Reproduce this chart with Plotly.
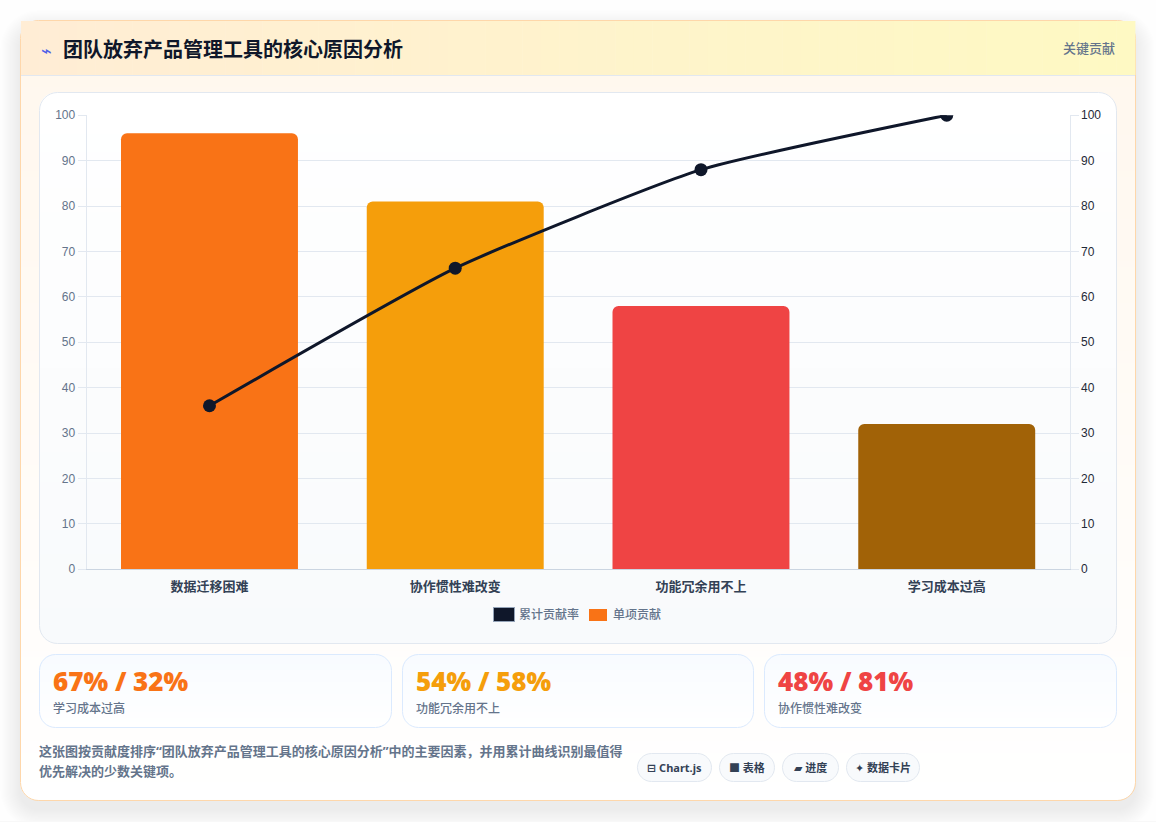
import math
import plotly.graph_objects as go

W, H = 1156, 822

# chart data
categories = ["数据迁移困难", "协作惯性难改变", "功能冗余用不上", "学习成本过高"]
contribution = [96, 81, 58, 32]
cumulative = [36, 66.3, 88, 100]
bar_colors = ["#f97316", "#f59e0b", "#ef4444", "#a16207"]
y_ticks = [0, 10, 20, 30, 40, 50, 60, 70, 80, 90, 100]

# text
title = "团队放弃产品管理工具的核心原因分析"
badge = "关键贡献"
card_values = ["67% / 32%", "54% / 58%", "48% / 81%"]
card_labels = ["学习成本过高", "功能冗余用不上", "协作惯性难改变"]
card_colors = ["#f97316", "#f59e0b", "#ef4444"]
note_lines = ["这张图按贡献度排序“团队放弃产品管理工具的核心原因分析”中的主要因素，并用累计曲线识别最值得",
              "优先解决的少数关键项。"]
pills = ["⊟ Chart.js", "■ 表格", "▰ 进度", "✦ 数据卡片"]

CJK = "Noto Sans CJK SC"


def px(x):
    return x / W


def py(y):
    return 1 - y / H


def mix(c0, c1, t):
    a = [int(c0[i:i + 2], 16) for i in (1, 3, 5)]
    b = [int(c1[i:i + 2], 16) for i in (1, 3, 5)]
    return "rgb(%d,%d,%d)" % tuple(round(p + (q - p) * t) for p, q in zip(a, b))


def round_rect(x0, y0, x1, y1, r, fill="rgba(0,0,0,0)", line=None, width=1):
    # rounded rectangle as an svg path in paper coords
    k = r * 0.45
    pts = [("M", x0 + r, y0), ("L", x1 - r, y0),
           ("C", x1 - k, y0, x1, y0 + k, x1, y0 + r), ("L", x1, y1 - r),
           ("C", x1, y1 - k, x1 - k, y1, x1 - r, y1), ("L", x0 + r, y1),
           ("C", x0 + k, y1, x0, y1 - k, x0, y1 - r), ("L", x0, y0 + r),
           ("C", x0, y0 + k, x0 + k, y0, x0 + r, y0)]
    d = ""
    for p in pts:
        coords = p[1:]
        d += p[0] + " ".join("%.5f,%.5f" % (px(coords[i]), py(coords[i + 1])) for i in range(0, len(coords), 2)) + " "
    return dict(type="path", path=d + "Z", xref="paper", yref="paper", layer="below", fillcolor=fill,
                line=dict(color=line if line else "rgba(0,0,0,0)", width=width if line else 0))


def rect(x0, y0, x1, y1, fill):
    return dict(type="rect", xref="paper", yref="paper", layer="below", x0=px(x0), x1=px(x1), y0=py(y1), y1=py(y0),
                fillcolor=fill, line=dict(width=0))


def v_gradient(x0, y0, x1, y1, r, c0, c1):
    # vertical gradient cut into rows, one pixel high where the corners are
    out = []
    y = y0
    while y < y1:
        in_corner = y < y0 + r or y >= y1 - r
        step = 1 if in_corner else min(6, y1 - r - y)
        d = 0
        if y < y0 + r:
            d = r - math.sqrt(max(r * r - (y0 + r - y - 0.5) ** 2, 0))
        elif y >= y1 - r:
            d = r - math.sqrt(max(r * r - (y + 0.5 - (y1 - r)) ** 2, 0))
        out.append(rect(x0 + d, y, x1 - d, y + step + 0.3 if y + step < y1 else y + step, mix(c0, c1, (y - y0) / (y1 - y0))))
        y += step
    return out


shapes = []

# soft shadow of the big card
for i in range(18):
    grow = 20 - i * 1.1
    shapes.append(round_rect(20 - grow, 21 - grow + 9, 1135 + grow, 800 + grow + 9, 18 + grow, fill="rgba(15,23,42,0.003)"))
shapes.append(rect(0, 821, W, 822, "#f8f8f8"))

# big card with a peach wash fading to white
shapes += v_gradient(20, 21, 1135, 800, 18, "#fff7ed", "#ffffff")
shapes.append(round_rect(20.5, 20.5, 1135.5, 800.5, 18, line="#fed7aa", width=1))

# header band
strips = 60
for i in range(strips):
    x0 = 21 + (1135 - 21) * i / strips
    x1 = 21 + (1135 - 21) * (i + 1) / strips
    shapes.append(rect(x0, 21, x1 + 0.4, 75, mix("#ffedd5", "#fef9c3", i / (strips - 1))))
shapes.append(rect(21, 75, 1135, 76, "#e2e8f0"))

# chart panel
shapes += v_gradient(39, 92, 1116, 643, 18, "#ffffff", "#f8fafc")
shapes.append(round_rect(39.5, 92.5, 1116.5, 643.5, 18, line="#e2e8f0", width=1))

# legend swatches
shapes.append(rect(493, 607, 515, 622, "#94a3b8"))
shapes.append(rect(494, 608, 514, 621, "#0f172a"))
shapes.append(rect(589, 609, 607, 621, "#f97316"))

annotations = []


def text(x, y, s, size, color, weight=400, anchor="left", family=CJK):
    annotations.append(dict(x=px(x), y=py(y), xref="paper", yref="paper", text=s, showarrow=False, xanchor=anchor,
                            yanchor="middle", borderpad=0,
                            font=dict(family=family, size=size, color=color, weight=weight)))


text(40, 50, "⌁", 18, "#4f5fe8", family="DejaVu Sans")
text(62, 48.5, title, 20, "#0f172a", 700)
text(1116, 47.5, badge, 13, "#64748b", 500, anchor="right")

text(518, 613.5, "累计贡献率", 12, "#64748b", 500)
text(612, 613.5, "单项贡献", 12, "#64748b", 500)

# stat cards
card_x = [(39, 391), (402, 753), (764, 1116)]
for (x0, x1), value, label, color in zip(card_x, card_values, card_labels, card_colors):
    shapes += v_gradient(x0, 654, x1, 727, 16, "#f8fbff", "#ffffff")
    shapes.append(round_rect(x0 + 0.5, 654.5, x1 + 0.5, 727.5, 16, line="#dbeafe", width=1))
    text(x0 + 13, 680.5, value, 26, color, 800, family="Open Sans")
    text(x0 + 13, 707, label, 12, "#64748b", 500)

text(38, 751, note_lines[0], 13, "#64748b", 700, family="Noto Sans, " + CJK)
text(38, 771, note_lines[1], 13, "#64748b", 700, family="Noto Sans, " + CJK)

# pills under the note
pill_x = [(637, 711), (719, 774), (782, 838), (846, 919)]
for (x0, x1), s in zip(pill_x, pills):
    shapes.append(round_rect(x0 + 0.5, 753.5, x1 + 0.5, 781.5, 14, fill="#f8fafc", line="#e2e8f0", width=1))
    text((x0 + x1) / 2 + 0.5, 767.5, s, 11, "#334155", 700, anchor="center", family="Noto Sans, " + CJK + ", DejaVu Sans")

fig = go.Figure()
fig.add_trace(go.Bar(x=categories, y=contribution, marker=dict(color=bar_colors, line=dict(width=0)), yaxis="y",
                     showlegend=False))
fig.add_trace(go.Scatter(x=categories, y=cumulative, mode="lines+markers", yaxis="y2", showlegend=False,
                         line=dict(color="#0f172a", width=3, shape="spline", smoothing=0.5),
                         marker=dict(color="#0f172a", size=13, line=dict(width=0))))

axis_common = dict(range=[0, 100], tickvals=y_ticks, ticks="outside", ticklen=8, tickwidth=1, tickcolor="#e2e8f0",
                   showline=True, linecolor="#e2e8f0", linewidth=1, zeroline=False,
                   domain=[py(569.2), py(115.2)])

fig.update_layout(
    width=W, height=H, margin=dict(l=0, r=0, t=0, b=0), autosize=False,
    paper_bgcolor="#fefefe", plot_bgcolor="rgba(0,0,0,0)",
    font=dict(family=CJK), bargap=0.28, barcornerradius=6,
    shapes=shapes, annotations=annotations,
    xaxis=dict(domain=[px(86.6), px(1069.6)], showgrid=False, ticks="outside", ticklen=5, tickcolor="rgba(0,0,0,0)",
               showline=True, linecolor="#cbd5e1", linewidth=1,
               tickfont=dict(family=CJK, size=13, color="#334155", weight=700), automargin=False),
    yaxis=dict(showgrid=True, gridcolor="#e2e8f0", gridwidth=1, automargin=False,
               tickfont=dict(family="Liberation Sans", size=12, color="#64748b"), **axis_common),
    yaxis2=dict(overlaying="y", side="right", showgrid=False, automargin=False,
                tickfont=dict(family="Liberation Sans", size=12, color="#1f2937"), **axis_common),
)

fig.write_html("out.html", config={"displayModeBar": False},
               post_script="document.body.style.margin='0';document.body.style.overflow='hidden';")
